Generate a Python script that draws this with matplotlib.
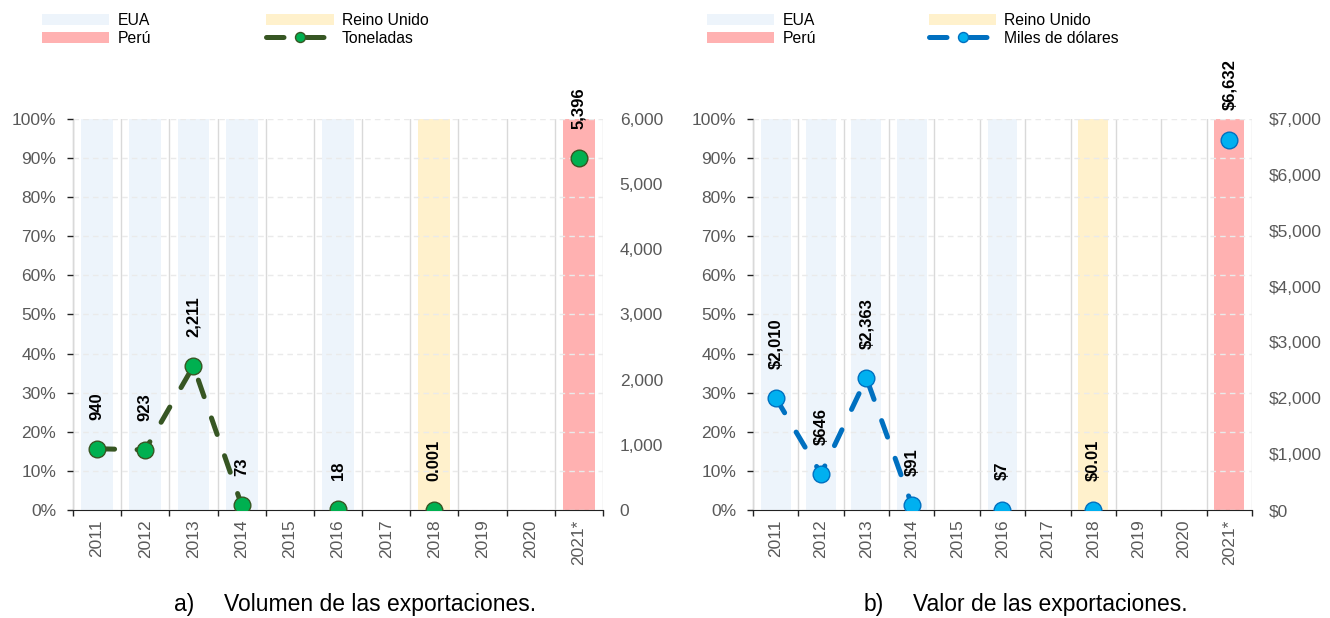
import numpy as np
import matplotlib
matplotlib.use("Agg")
import matplotlib.pyplot as plt
from matplotlib.ticker import FixedLocator, FuncFormatter, MultipleLocator

plt.rcParams['font.family'] = ['Liberation Sans', 'DejaVu Sans']

# ---------------- data ----------------
years = ["2011", "2012", "2013", "2014", "2015", "2016", "2017", "2018", "2019", "2020", "2021*"]
destino = ["EUA", "EUA", "EUA", "EUA", None, "EUA", None, "Reino Unido", None, None, "Perú"]
share = [1, 1, 1, 1, 0, 1, 0, 1, 0, 0, 1]
toneladas = [940, 923, 2211, 73, np.nan, 18, np.nan, 0.001, np.nan, np.nan, 5396]
miles_dolares = [2010, 646, 2363, 91, np.nan, 7, np.nan, 0.01, np.nan, np.nan, 6632]

countries = ["EUA", "Perú", "Reino Unido"]
country_colors = {"EUA": "#EDF4FB", "Perú": "#FFB1B1", "Reino Unido": "#FFF1CC"}

W, H = 1330, 618
fig = plt.figure(figsize=(W / 100, H / 100), dpi=100)

TICK_GRAY = "#595959"


def fmt_val(v, prefix=""):
    if v >= 1:
        return f"{prefix}{v:,.0f}"
    return f"{prefix}{v:g}"


def make_panel(rect, values, ymax, line_color, marker_color, series_label,
               prefix, legend_xy, colspace, caption_letter, caption_text, cap_x):
    ax = fig.add_axes(rect)
    x = np.arange(len(years))
    handles = {}
    for c in countries:
        h = [s if d == c else 0 for s, d in zip(share, destino)]
        handles[c] = ax.bar(x, h, width=0.66, color=country_colors[c], label=c,
                            zorder=1, linewidth=0)
    ax.set_xlim(-0.5, len(years) - 0.5)
    ax.set_ylim(0, 1)
    ax.yaxis.set_major_locator(MultipleLocator(0.1))
    ax.yaxis.set_major_formatter(FuncFormatter(lambda v, p: f"{v*100:.0f}%"))
    ax.xaxis.set_major_locator(FixedLocator(np.arange(-0.5, len(years), 1.0)))
    ax.xaxis.set_major_formatter(FuncFormatter(lambda v, p: ""))
    ax.set_xticks(x, years, minor=True)
    ax.tick_params(axis='x', which='minor', length=0, pad=7, labelsize=12.5,
                   labelcolor=TICK_GRAY, labelrotation=90)
    ax.tick_params(axis='x', which='major', length=4, width=1, color="#222222")
    ax.tick_params(axis='y', length=4, width=1, color="#222222", pad=8,
                   labelsize=12.5, labelcolor=TICK_GRAY)
    ax.xaxis.grid(True, which='major', color="#D9D9D9", lw=1, zorder=0)
    ax.yaxis.grid(True, color="#EAEAEA", lw=1, linestyle=(0, (4, 3)))
    ax.set_axisbelow(False)
    for s in ["top", "right"]:
        ax.spines[s].set_visible(False)
    ax.spines["left"].set_color("#222222")
    ax.spines["bottom"].set_color("#222222")

    ax2 = ax.twinx()
    ax2.set_ylim(0, ymax)
    ax2.yaxis.set_major_locator(MultipleLocator(1000))
    ax2.yaxis.set_major_formatter(FuncFormatter(lambda v, p: f"{prefix}{v:,.0f}"))
    ax2.tick_params(axis='y', length=0, pad=12, labelsize=12.5, labelcolor=TICK_GRAY)
    for s in ax2.spines.values():
        s.set_visible(False)
    line, = ax2.plot(x, values, color=line_color, lw=3.6, linestyle=(0, (3.5, 4.5)),
                     dash_capstyle='round',
                     marker='o', markersize=12, markerfacecolor=marker_color,
                     markeredgecolor=line_color, markeredgewidth=1, zorder=3,
                     label=series_label)
    for xi, v in zip(x, values):
        if np.isnan(v):
            continue
        ax2.annotate(fmt_val(v, prefix), (xi, v), xytext=(0, 21),
                     textcoords='offset points', rotation=90, ha='center',
                     va='bottom', fontsize=12, fontweight='bold', color='black',
                     annotation_clip=False, zorder=5)

    leg_handles = [handles["EUA"], handles["Perú"], handles["Reino Unido"], line]
    leg_labels = ["EUA", "Perú", "Reino Unido", series_label]
    fig.legend(leg_handles, leg_labels, loc='upper left',
               bbox_to_anchor=(legend_xy[0] / W, 1 - legend_xy[1] / H),
               ncol=2, frameon=False, fontsize=11.3, handlelength=4.3,
               handletextpad=0.5, columnspacing=colspace, labelspacing=0.18,
               borderpad=0, borderaxespad=0, numpoints=1, markerscale=0.6)

    fig.text(cap_x[0] / W, 1 - 605 / H, caption_letter, fontsize=16.5,
             ha='left', va='center')
    fig.text(cap_x[1] / W, 1 - 605 / H, caption_text, fontsize=16.5,
             ha='left', va='center')
    return ax, ax2


make_panel([73 / W, (H - 510) / H, 530 / W, 391 / H], toneladas, 6000,
           "#375623", "#00B050", "Toneladas", "", (42, 13), 7.35,
           "a)", "Volumen de las exportaciones.", (174, 224))
make_panel([753 / W, (H - 510) / H, 499 / W, 391 / H], miles_dolares, 7000,
           "#0070C0", "#00B0F0", "Miles de dólares", "$", (707, 13), 7.2,
           "b)", "Valor de las exportaciones.", (864, 913))

fig.savefig("out.png", dpi=100)
